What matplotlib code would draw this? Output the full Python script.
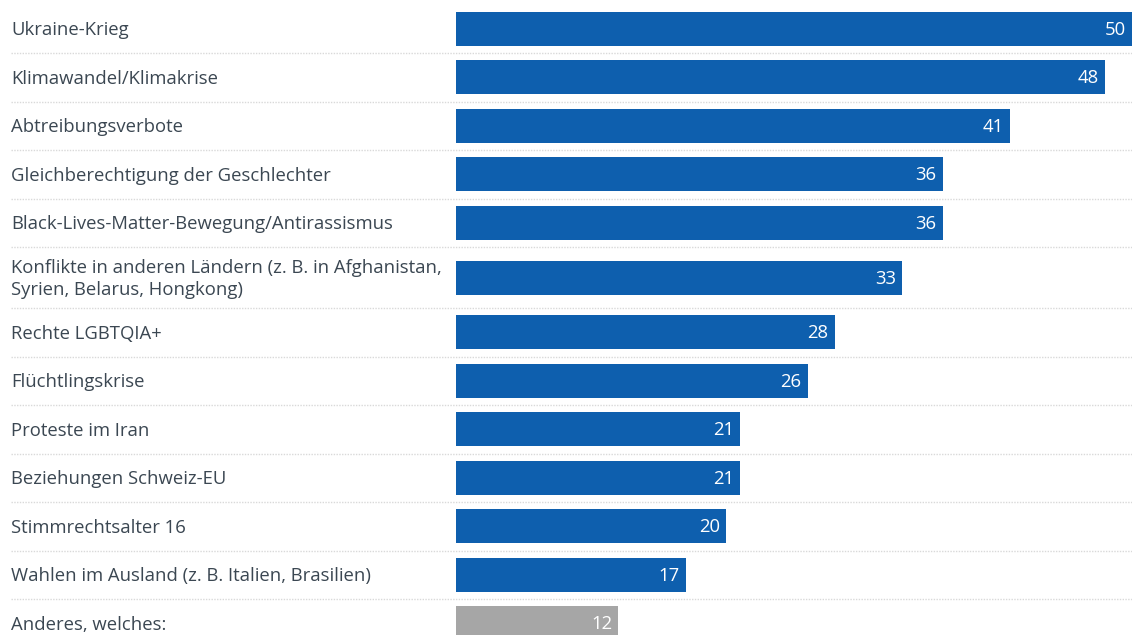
import numpy as np
import matplotlib
matplotlib.use('Agg')
import matplotlib.pyplot as plt

# %% Data
labels = ['Ukraine-Krieg', 'Klimawandel/Klimakrise', 'Abtreibungsverbote',
          'Gleichberechtigung der Geschlechter',
          'Black-Lives-Matter-Bewegung/Antirassismus',
          'Konflikte in anderen Ländern (z. B. in Afghanistan,\nSyrien, Belarus, Hongkong)',
          'Rechte LGBTQIA+', 'Flüchtlingskrise', 'Proteste im Iran',
          'Beziehungen Schweiz-EU', 'Stimmrechtsalter 16',
          'Wahlen im Ausland (z. B. Italien, Brasilien)', 'Anderes, welches:']
values = [50, 48, 41, 36, 36, 33, 28, 26, 21, 21, 20, 17, 12]
is_other = [False] * 12 + [True]

# %% Layout (pixels)
W, H = 1132, 635
bar_x0 = 456
px_per_unit = (1132 - bar_x0) / 50
row_h = [48.5] * len(values)
row_h[5] = 61
top = 4.5
edges = top + np.concatenate([[0], np.cumsum(row_h)])
centers = (edges[:-1] + edges[1:]) / 2

blue = '#0e5fae'
grey = '#a6a6a6'
text_col = '#3b4752'

plt.rcParams['font.family'] = ['Open Sans', 'DejaVu Sans']

fig = plt.figure(figsize=(W / 100, H / 100), dpi=100)
ax = fig.add_axes([0, 0, 1, 1])
ax.set_xlim(-bar_x0 / px_per_unit, (W - bar_x0) / px_per_unit)
ax.set_ylim(H, 0)
ax.axis('off')

colors = [grey if o else blue for o in is_other]
ax.barh(centers, values, height=34, left=0, color=colors, edgecolor='none')

# separators
for e in edges[1:-1]:
    ax.plot([-(bar_x0 - 11) / px_per_unit, (W - bar_x0) / px_per_unit], [e, e],
            color='#d9d9d9', linewidth=1, linestyle=(0, (1, 1)))

lab_tr = ax.get_yaxis_transform()
for c, lab, v in zip(centers, labels, values):
    ax.text(11 / W, c + 1.5, lab, transform=lab_tr, ha='left', va='center',
            fontsize=13.3, color=text_col, linespacing=1.3)
    ax.text(v - 6 / px_per_unit, c + 1, str(v), ha='right', va='center',
            fontsize=13.3, color='white')

fig.savefig('out.png', dpi=100)
